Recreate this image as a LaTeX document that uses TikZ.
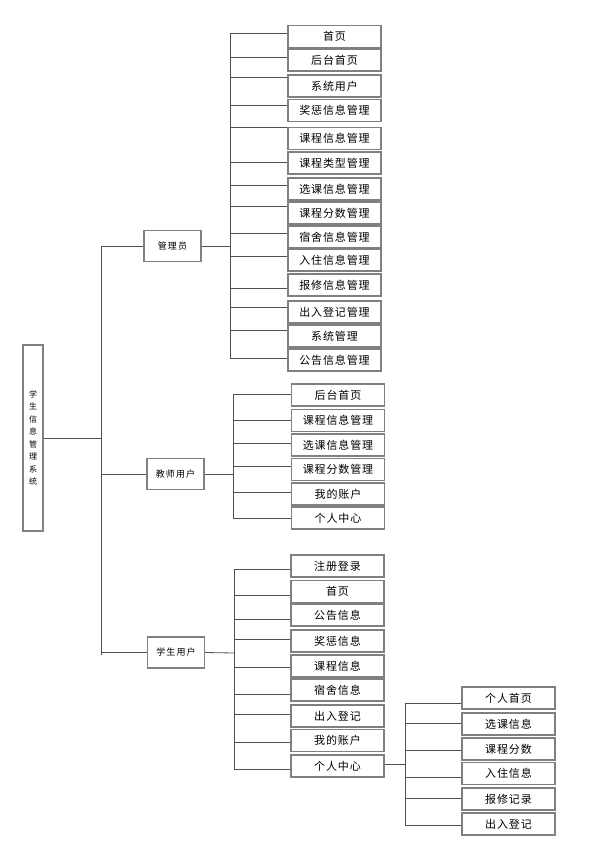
\documentclass[tikz,border=0pt]{standalone}
\usepackage{fontspec}
\setmainfont{Noto Sans CJK SC}
\usepackage{tikz}
\usetikzlibrary{positioning,calc}
\definecolor{boxgray}{HTML}{808080}
\definecolor{linegray}{HTML}{505050}

\begin{document}
\begin{tikzpicture}[x=1pt,y=-1pt,
  rootbox/.style={rectangle,draw=boxgray,line width=1.2pt,minimum width=20pt,minimum height=186pt,inner sep=0pt,align=center,font=\fontsize{8}{12.5}\selectfont},
  role/.style={rectangle,draw=boxgray,line width=1.2pt,minimum width=57pt,minimum height=31pt,inner sep=0pt,font=\fontsize{9}{11}\selectfont\addfontfeature{LetterSpace=12}},
  leaf/.style={rectangle,draw=boxgray,line width=1.2pt,minimum width=93pt,minimum height=22pt,inner sep=0pt,font=\fontsize{11}{13}\selectfont\addfontfeature{LetterSpace=8}},
  link/.style={draw=linegray,line width=0.8pt}
]
\useasboundingbox (0,0) rectangle (608,864);

% root and first level
\node[rootbox] (sys) at (33,438) {学\\生\\信\\息\\管\\理\\系\\统};
\coordinate (t0) at (101,438);
\draw[link] (sys.east) -- (t0);
\draw[link] (t0 |- 0,247) -- (t0 |- 0,655);

\node[role] (adm) at (172.5,246) {管理员};
\node[role] (tea) at (175.5,474) {教师用户};
\node[role] (stu) at (176,652.5) {学生用户};
\foreach \r in {adm,tea,stu}
  \draw[link] (t0 |- \r) -- (\r.west);

% administrator
\coordinate (tA) at (230,246);
\draw[link] (adm.east) -- (tA);
\draw[link] (tA |- 0,33) -- (tA |- 0,358);
\foreach \i/\cy/\ly/\txt in {1/36.5/33/首页,2/60/57/后台首页,3/86/77/系统用户,
  4/110.5/105/奖惩信息管理,5/138.5/127/课程信息管理,6/163/162/课程类型管理,
  7/189/185/选课信息管理,8/213/206/课程分数管理,9/237/233/宿舍信息管理,
  10/260/256/入住信息管理,11/285/288/报修信息管理,12/312/307/出入登记管理,
  13/336/330/系统管理,14/360/358/公告信息管理}{
  \node[leaf] (a\i) at (334.5,\cy) {\txt};
  \draw[link] (tA |- 0,\ly) -- (a\i.west |- 0,\ly);
}

% teacher
\coordinate (tT) at (233,474);
\draw[link] (tea.east) -- (tT);
\draw[link] (tT |- 0,394) -- (tT |- 0,518);
\foreach \i/\cy/\ly/\txt in {1/395/394/后台首页,2/420.5/420/课程信息管理,
  3/445/443/选课信息管理,4/469.5/466/课程分数管理,5/494/492/我的账户,6/518/518/个人中心}{
  \node[leaf] (b\i) at (338,\cy) {\txt};
  \draw[link] (tT |- 0,\ly) -- (b\i.west |- 0,\ly);
}

% student
\coordinate (tS) at (234,653);
\draw[link] (stu.east) -- (tS);
\draw[link] (tS |- 0,569) -- (tS |- 0,769);
\foreach \i/\cy/\ly/\txt in {1/566/569/注册登录,2/591.5/595/首页,3/615/619/公告信息,
  4/641/639/奖惩信息,5/666/667/课程信息,6/690/694/宿舍信息,7/716/714/出入登记,
  8/740.5/742/我的账户,9/766/769/个人中心}{
  \node[leaf] (s\i) at (337.5,\cy) {\txt};
  \draw[link] (tS |- 0,\ly) -- (s\i.west |- 0,\ly);
}

% personal centre
\coordinate (tP) at (405,764);
\draw[link] (s9.east |- tP) -- (tP);
\draw[link] (tP |- 0,703) -- (tP |- 0,825);
\foreach \i/\cy/\ly/\txt in {1/698/703/个人首页,2/724/723/选课信息,3/749/750/课程分数,
  4/773.5/777/入住信息,5/799/798/报修记录,6/824/825/出入登记}{
  \node[leaf] (p\i) at (508.5,\cy) {\txt};
  \draw[link] (tP |- 0,\ly) -- (p\i.west |- 0,\ly);
}
\end{tikzpicture}
\end{document}
